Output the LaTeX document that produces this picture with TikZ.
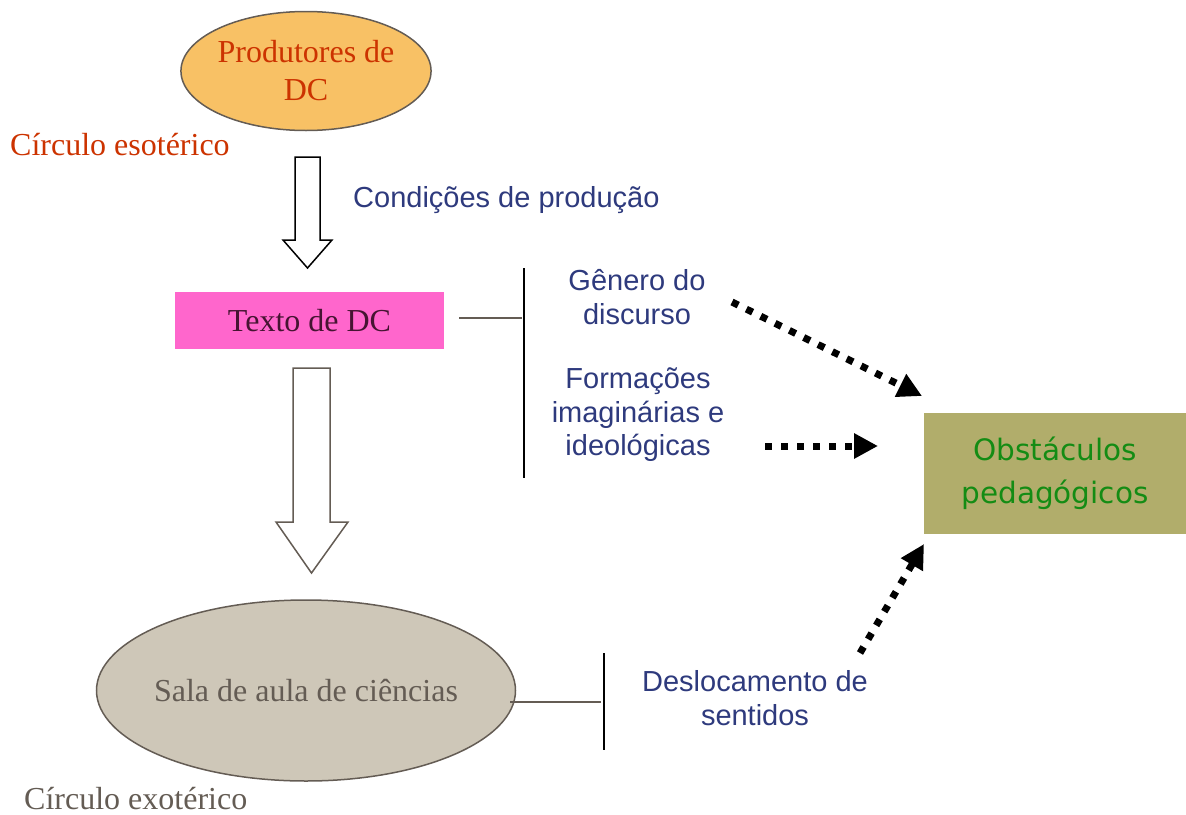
\documentclass[tikz,border=0pt]{standalone}
\usepackage{fontspec}
\setmainfont{Liberation Serif}
\newfontfamily\arialf{Liberation Sans}
\newfontfamily\comicf{DejaVu Sans}
\usetikzlibrary{shapes.geometric,arrows.meta}
\definecolor{orangefill}{RGB}{248,193,101}
\definecolor{redtxt}{RGB}{204,51,0}
\definecolor{bluetxt}{RGB}{46,58,125}
\definecolor{pinkfill}{RGB}{255,102,204}
\definecolor{darktxt}{RGB}{70,20,50}
\definecolor{greyline}{RGB}{100,92,84}
\definecolor{beigefill}{RGB}{206,199,184}
\definecolor{oliveflll}{RGB}{177,173,107}
\definecolor{greentxt}{RGB}{20,140,20}
\tikzset{
  serif/.style={font=\fontsize{32}{38}\selectfont},
  bluelabel/.style={font=\arialf\fontsize{29}{33.5}\selectfont, text=bluetxt, align=center, inner sep=0},
  dotarrow/.style={line width=7pt, dash pattern=on 7pt off 9pt, -{Triangle[length=24pt,width=24pt]}},
  hollow/.style={line width=1.5pt, fill=white, line join=miter},
  bracket/.style={line width=2.5pt, black},
  link/.style={line width=2pt, greyline}
}
\begin{document}
\begin{tikzpicture}[x=1pt,y=-1pt]
\useasboundingbox (0,0) rectangle (1186,814);

% top ellipse
\node[ellipse, draw=greyline, line width=1.5pt, fill=orangefill, minimum width=250, minimum height=119, inner sep=0, serif, text=redtxt, align=center] (prod) at (306,71) {Produtores de\\DC};
\node[serif, text=redtxt, anchor=west, inner sep=0] (esot) at (10,145) {Círculo esotérico};

% hollow arrow 1
\draw[hollow, draw=black] (295,157) -- (320,157) -- (320,240) -- (332,240) -- (307.5,268) -- (283,240) -- (295,240) -- cycle;
\node[bluelabel, anchor=west] (cond) at (353,200) {Condições de produção};

% Texto de DC
\node[fill=pinkfill, minimum width=269, minimum height=57, inner sep=0, serif, text=darktxt] (texto) at (309.5,320.5) {Texto de DC};

% bracket 1
\coordinate (l1s) at (459,318);
\coordinate (l1e) at (522,318);
\draw[link] (l1s) -- (l1e);
\coordinate (b1t) at (524,268);
\coordinate (b1b) at (524,478);
\draw[bracket] (b1t) -- (b1b);

\node[bluelabel] (genero) at (637,297) {Gênero do\\discurso};
\node[bluelabel] (formacoes) at (638,415) {Formações\\imaginárias e\\ideológicas};

% Obstaculos
\node[fill=oliveflll, minimum width=262, minimum height=121, inner sep=0, font=\comicf\fontsize{29.5}{43}\selectfont, text=greentxt, align=center] (obst) at (1055,473.5) {Obstáculos\\pedagógicos};

% dotted arrows
\coordinate (d1s) at (732,302);
\coordinate (d1e) at (922,396);
\draw[dotarrow] (d1s) -- (d1e);
\coordinate (d2s) at (765,446);
\coordinate (d2e) at (878,446);
\draw[dotarrow] (d2s) -- (d2e);
\coordinate (d3s) at (860,653);
\coordinate (d3e) at (924,544);
\draw[dotarrow] (d3s) -- (d3e);

% hollow arrow 2
\draw[hollow, draw=greyline] (293,368) -- (330,368) -- (330,522) -- (348,522) -- (311.5,573) -- (276,522) -- (293,522) -- cycle;

% bottom ellipse
\node[ellipse, draw=greyline, line width=1.5pt, fill=beigefill, minimum width=419, minimum height=181, inner xsep=-8pt, inner ysep=0, serif, text=greyline] (sala) at (306,690.5) {Sala de aula de ciências};

% bracket 2
\coordinate (l2e) at (601,702);
\draw[link] (510,702) coordinate (l2s) -- (l2e);
\coordinate (b2t) at (604,653);
\coordinate (b2b) at (604,750);
\draw[bracket] (b2t) -- (b2b);

\node[bluelabel] (desloc) at (755,698) {Deslocamento de\\sentidos};
\node[serif, text=greyline, anchor=base west, inner sep=0] (exot) at (24,809) {Círculo exotérico};
\end{tikzpicture}
\end{document}
